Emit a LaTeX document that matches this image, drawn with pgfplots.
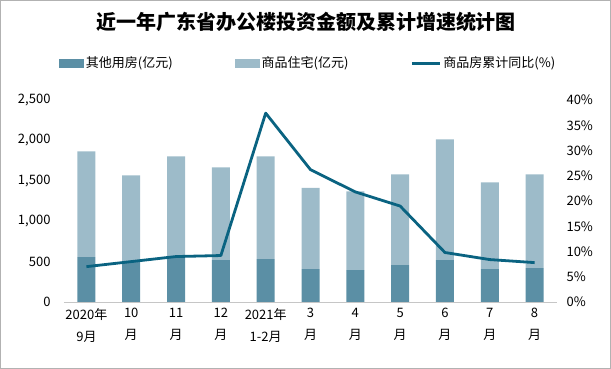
\documentclass[border=0pt]{standalone}
\usepackage{pgfplots}
\pgfplotsset{compat=1.18}
\usepackage{fontspec}
\setmainfont{Noto Sans CJK SC}
\definecolor{darkbar}{HTML}{5B8FA5}
\definecolor{lightbar}{HTML}{9DBBC9}
\definecolor{linec}{HTML}{0A6381}
\begin{document}
\begin{tikzpicture}[x=1pt,y=1pt]
\path[use as bounding box] (0,0) rectangle (611,369);
\draw[gray!60, line width=0.8pt] (0.5,0.5) rectangle (610.5,368.5);
\node[font=\fontsize{20}{24}\selectfont\bfseries] at (306,347) {近一年广东省办公楼投资金额及累计增速统计图};
\begin{axis}[at={(64pt,67pt)}, anchor=south west, scale only axis,
  width=493pt, height=202pt,
  xmin=-0.5, xmax=10.5, ymin=0, ymax=2500,
  ybar stacked, bar width=18pt,
  xtick={0,...,10},
  xticklabels={{2020年\\9月},{10\\月},{11\\月},{12\\月},{2021年\\1-2月},{3\\月},{4\\月},{5\\月},{6\\月},{7\\月},{8\\月}},
  ytick={0,500,...,2500},
  axis x line*=bottom, x axis line style={draw=gray!45, line width=0.8pt, -},
  axis y line*=left, y axis line style={draw=none},
  major tick length=0pt,
  tick label style={font=\fontsize{13}{22}\selectfont},
  /pgf/number format/assume math mode=true,
  /pgf/number format/1000 sep={,},
  scaled y ticks=false,
  xticklabel style={align=center, yshift=-3pt},
  yticklabel style={xshift=-10pt},
  legend style={at={(0.495,1.183)}, anchor=center, draw=none, fill=none,
    legend columns=3, font=\fontsize{13}{15}\selectfont,
    /tikz/every even column/.append style={column sep=60pt}},
  legend cell align=left,
]
\addplot[fill=darkbar, draw=none, legend image code/.code={\fill[darkbar] (0pt,-4.5pt) rectangle (25pt,4.5pt);}] coordinates {
(0,556) (1,500) (2,560) (3,518) (4,531) (5,407) (6,395) (7,457) (8,518) (9,407) (10,420)};
\addlegendentry{其他用房(亿元)}
\addplot[fill=lightbar, draw=none, legend image code/.code={\fill[lightbar] (0pt,-4.5pt) rectangle (25pt,4.5pt);}] coordinates {
(0,1308) (1,1068) (2,1242) (3,1149) (4,1271) (5,1004) (6,975) (7,1123) (8,1494) (9,1074) (10,1160)};
\addlegendentry{商品住宅(亿元)}
\addlegendimage{legend image code/.code={\draw[linec, line width=3pt] (0pt,0pt) -- (28pt,0pt);}}
\addlegendentry{商品房累计同比(\%)}
\end{axis}
\begin{axis}[at={(64pt,67pt)}, anchor=south west, scale only axis,
  width=493pt, height=202pt,
  xmin=-0.5, xmax=10.5, ymin=0, ymax=40,
  axis x line=none,
  axis y line*=right, y axis line style={draw=none},
  ytick={0,5,...,40},
  yticklabel={\pgfmathprintnumber{\tick}\%},
  major tick length=0pt,
  tick label style={font=\fontsize{13}{22}\selectfont},
  /pgf/number format/assume math mode=true,
  yticklabel style={xshift=6pt},
]
\addplot[linec, line width=2.8pt, mark=none, line join=round] coordinates {
(0,7.0) (1,8.0) (2,9.0) (3,9.2) (4,37.4) (5,26.2) (6,21.8) (7,19.0) (8,9.8) (9,8.4) (10,7.8)};
\end{axis}
\end{tikzpicture}
\end{document}
